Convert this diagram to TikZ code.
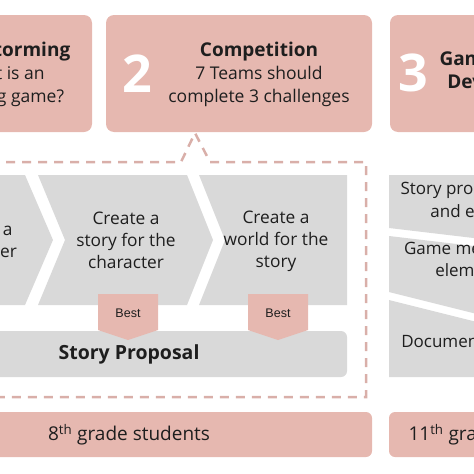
\documentclass[tikz,border=0pt]{standalone}
\usepackage{fontspec}
\setmainfont{Open Sans}
\newfontfamily\tagfont{Liberation Sans}
\usepackage{tikz}
\usetikzlibrary{positioning}
\usepackage{xcolor}
\definecolor{rosefill}{HTML}{E6B8B0}
\definecolor{stepgray}{HTML}{D9D9D9}
\definecolor{dashrose}{HTML}{D9AFA9}
\definecolor{ink}{HTML}{1E1E1E}
\newcommand{\phasetitlefont}{\fontsize{19}{23}\selectfont\bfseries}

\begin{document}
\begin{tikzpicture}[x=1pt, y=-1pt,
    phase/.style={fill=rosefill, rounded corners=8pt, minimum width=266pt, minimum height=117pt, inner sep=0pt},
    phasenum/.style={text=white, font=\fontsize{52}{52}\selectfont\bfseries},
    phasetext/.style={align=center, text=ink, font=\fontsize{17.5}{23}\selectfont},
    phasetitle/.style={font=\phasetitlefont},
    steptext/.style={align=center, text=ink, font=\fontsize{17.3}{22}\selectfont},
    tasktext/.style={align=center, text=ink, font=\fontsize{17}{22.5}\selectfont},
    besttext/.style={text=ink, font=\tagfont\fontsize{12.5}{14}\selectfont},
    gradebar/.style={fill=rosefill, rounded corners=6pt, minimum height=45pt, inner sep=0pt},
    gradetext/.style={text=ink, font=\fontsize{19}{22}\selectfont}
]
\useasboundingbox (0,0) rectangle (474,474);
\clip (0,0) rectangle (474,474);

% phases
\node[phase] (p1) at (-41,73.5) {};
\node[phasetext] (t1) at (2,74.5) {{\phasetitlefont Brainstorming}\\What is an\\learning game?};
\node[phase] (p2) at (239,73.5) {};
\node[phasenum] (n2) at (137,74) {2};
\node[phasetext] (t2) at (259,74.5) {{\phasetitlefont Competition}\\7 Teams should\\complete 3 challenges};
\node[phase] (p3) at (523,73.5) {};
\node[phasenum] (n3) at (413,73) {3};
\node[phasetext, phasetitle] (t3) at (511,72.5) {Game Design \&\\Development};

% challenges
\fill[stepgray] (-120,175) -- (25,175) -- (53,240) -- (25,305) -- (-120,305) -- cycle;
\fill[stepgray] (38,175) -- (187,175) -- (213,240) -- (187,305) -- (38,305) -- (65,240) -- cycle;
\fill[stepgray] (199,175) -- (347,175) -- (347,305) -- (199,305) -- (225,240) -- cycle;
\node[steptext] (c1) at (-21,240) {Create a\\character};
\node[steptext] (c2) at (126,240) {Create a\\story for the\\character};
\node[steptext] (c3) at (276,241) {Create a\\world for the\\story};

% story proposal
\node[fill=stepgray, rounded corners=6pt, minimum width=380pt, minimum height=46pt, inner sep=0pt] (bar) at (157,354) {};
\node[text=ink, font=\fontsize{19.5}{22}\selectfont\bfseries] (story) at (129,354) {Story Proposal};

% best
\fill[rosefill] (98,294) -- (158,294) -- (158,330) -- (128,340) -- (98,330) -- cycle;
\fill[rosefill] (248,294) -- (308,294) -- (308,330) -- (278,340) -- (248,330) -- cycle;
\node[besttext] (best1) at (128,313) {Best};
\node[besttext] (best2) at (278,313) {Best};

% frame of phase 2
\draw[dashrose, line width=2.5pt, dash pattern=on 9pt off 7pt]
    (-10,162) -- (181,162) -- (195,133) -- (210,162) -- (366,162) -- (366,397) -- (-10,397);

% tasks of phase 3
\fill[stepgray] (389,175) -- (541,175) -- (541,246) -- (389,228) -- cycle;
\fill[stepgray] (389,236) -- (541,254) -- (541,330) -- (389,292) -- cycle;
\fill[stepgray] (389,300) -- (541,338) -- (541,377) -- (389,377) -- cycle;
\node[tasktext] (r1) at (475,201.5) {Story proofreading\\and editing};
\node[tasktext] (r2) at (472,259) {Game mechanics\\elements};
\node[tasktext] (r3) at (463,341) {Documentation};

% students
\node[gradebar, minimum width=392pt] (g8bar) at (176,434.5) {};
\node[gradetext] (grade8) at (129,435) {8\textsuperscript{th} grade students};
\node[gradebar, minimum width=270pt] (g11bar) at (524,434.5) {};
\node[gradetext, anchor=west] (grade11) at (405,435) {11\textsuperscript{th} grade students};

\end{tikzpicture}
\end{document}
